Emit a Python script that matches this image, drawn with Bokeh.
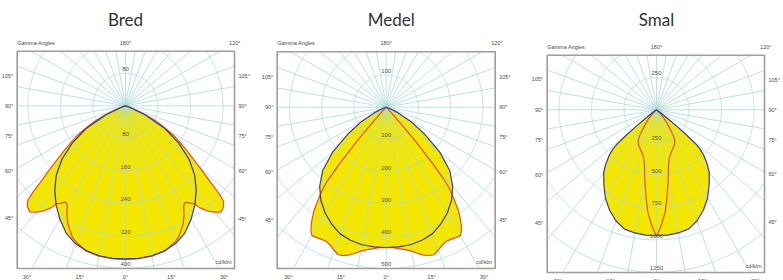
import numpy as np
from bokeh.plotting import figure
from bokeh.layouts import row
from bokeh.models import Range1d
from bokeh.core.properties import value
from bokeh.embed import file_html
from bokeh.resources import INLINE

# ---------------- data (gamma angle in degrees, intensity in cd/klm) ----------------
titles = ["Bred", "Medel", "Smal"]

bred_c0_gamma = [0, 5, 10, 15, 20, 25, 30, 35, 40, 45, 50, 55, 60, 65, 70, 75, 80, 85, 90]
bred_c0_cd = [377, 377, 375, 370, 361, 346, 323, 298, 271, 241, 204, 160, 112, 54, 12, 3, 1, 0, 0]
bred_c90_gamma = [0, 5, 10, 15, 20, 22, 24, 26, 28, 30, 31, 32, 33, 34, 35, 36, 38, 40, 42, 44,
                  45, 46, 47, 48, 49, 50, 52, 54, 56, 58, 60, 62, 64, 66, 68, 70, 75, 80, 90]
bred_c90_cd = [379, 378, 376, 371, 357, 349, 336, 324, 307, 287, 281, 280, 285, 290, 294, 310, 329, 342, 352, 347,
               342, 334, 311, 282, 262, 243, 211, 185, 163, 144, 119, 97, 77, 54, 32, 14, 4, 1, 0]

medel_c0_gamma = [0, 5, 10, 15, 20, 25, 30, 35, 40, 45, 50, 55, 60, 65, 70, 75, 80, 90]
medel_c0_cd = [435, 435, 433, 427, 418, 400, 379, 353, 321, 279, 217, 145, 88, 40, 10, 3, 1, 0]
medel_c90_gamma = [0, 3, 5, 8, 10, 12, 14, 16, 18, 20, 22, 24, 26, 28, 30, 31, 32, 33, 34, 35, 36, 37,
                   38, 38.6, 39.5, 40.6, 41.9, 43, 45, 50, 60, 90]
medel_c90_cd = [435, 436, 440, 447, 453, 463, 472, 479, 481, 472, 462, 456, 456, 458, 460, 452, 440, 425, 408, 390,
                364, 341, 315, 290, 225, 140, 55, 22, 6, 1, 0, 0]

smal_c0_gamma = [0, 5, 10, 15, 20, 25, 30, 35, 40, 43, 46, 48, 49, 50, 51, 52, 54, 58, 65, 90]
smal_c0_cd = [969, 968, 962, 950, 910, 853, 786, 706, 632, 573, 506, 452, 400, 310, 200, 100, 35, 10, 2, 0]
smal_c90_gamma = [0, 0.5, 2.3, 4.8, 6.6, 8.5, 10.8, 12.5, 14.4, 16.5, 19, 22, 26.1, 29, 31.5, 33.5, 35.3, 38,
                  40.6, 45, 50, 60, 90]
smal_c90_cd = [965, 956, 893, 792, 692, 591, 491, 430, 392, 365, 347, 330, 308, 290, 265, 228, 182, 135,
               95, 40, 10, 2, 0]

ring_steps = [80, 100, 250]
ring_labels_below = [[80, 160, 240, 320, 400], [100, 200, 300, 400, 500], [250, 500, 750, 1000, 1250]]
ring_label_above = [80, 100, 250]

side_angles = [105, 90, 75, 60, 45]
bottom_angles = [-30, -15, 0, 15, 30]
top_right_angle = 120

series = [
    (bred_c0_gamma, bred_c0_cd, bred_c90_gamma, bred_c90_cd),
    (medel_c0_gamma, medel_c0_cd, medel_c90_gamma, medel_c90_cd),
    (smal_c0_gamma, smal_c0_cd, smal_c90_gamma, smal_c90_cd),
]

# ---------------- style / layout ----------------
GRID = "#a9dbd7"
FILL = "#f3e600"
BLUE = "#3b3b94"
RED = "#e6501c"
BOX = "#a39c99"
TXT = "#4a4a4a"
RTXT = "#5a5040"
FONT = value("Liberation Sans")

W, H = 261, 280
# scale px per unit, centre (px inside the panel), box edges in px relative to centre
panels = [
    dict(scale=0.406, cx=125.0, cy=105.3, bl=-108.3, br=109.0, bt=-54.6, bb=162.7, tx=0),
    dict(scale=0.3225, cx=124.7, cy=106.7, bl=-109.0, br=109.0, bt=-55.4, bb=161.3, tx=5),
    dict(scale=0.13, cx=134.0, cy=109.3, bl=-109.3, br=108.0, bt=-54.6, bb=162.7, tx=0),
]


def outline(g, cd):
    g = np.radians(np.array(g, float))
    r = np.array(cd, float)
    xr = r * np.sin(g)
    yr = -r * np.cos(g)
    xs = np.concatenate([-xr[::-1], xr[1:]])
    ys = np.concatenate([yr[::-1], yr[1:]])
    return xs, ys


def clipped_ring(r, L, R, B, T):
    th = np.linspace(0, 2 * np.pi, 1441)
    x = r * np.cos(th)
    y = r * np.sin(th)
    inside = (x >= L) & (x <= R) & (y >= B) & (y <= T)
    segs_x, segs_y = [], []
    cur_x, cur_y = [], []
    for xi, yi, ok in zip(x, y, inside):
        if ok:
            cur_x.append(xi); cur_y.append(yi)
        elif cur_x:
            segs_x.append(cur_x); segs_y.append(cur_y); cur_x, cur_y = [], []
    if cur_x:
        segs_x.append(cur_x); segs_y.append(cur_y)
    return segs_x, segs_y


def build(i):
    P = panels[i]
    s = P["scale"]
    x0 = -P["cx"] / s
    x1 = (W - P["cx"]) / s
    y1 = P["cy"] / s
    y0 = -(H - P["cy"]) / s
    L, R = P["bl"] / s, P["br"] / s
    T, B = -P["bt"] / s, -P["bb"] / s
    p = figure(width=W, height=H, x_range=Range1d(x0, x1), y_range=Range1d(y0, y1),
               output_backend="svg", toolbar_location=None,
               x_axis_location=None, y_axis_location=None, min_border=0,
               outline_line_color=None, background_fill_color="white", border_fill_color="white")
    p.grid.grid_line_color = None

    c0g, c0v, c90g, c90v = series[i]
    bx, by = outline(c0g, c0v)
    rx, ry = outline(c90g, c90v)
    p.patch(rx, ry, fill_color=FILL, line_color=None)
    p.patch(bx, by, fill_color=FILL, line_color=None)

    # grid rings clipped to the box
    step = ring_steps[i]
    mx, my = [], []
    for k in range(1, 10):
        sx, sy = clipped_ring(step * k, L, R, B, T)
        mx += sx; my += sy
    p.multi_line(mx, my, line_color=GRID, line_width=0.8)

    # spokes every 10 degrees, ending at the box
    sx1, sy1 = [], []
    for a in range(0, 360, 10):
        th = np.radians(a)
        dx, dy = np.sin(th), np.cos(th)
        ts = []
        if dx > 1e-9: ts.append(R / dx)
        if dx < -1e-9: ts.append(L / dx)
        if dy > 1e-9: ts.append(T / dy)
        if dy < -1e-9: ts.append(B / dy)
        t = min(ts)
        sx1.append(dx * t); sy1.append(dy * t)
    p.segment(x0=[0] * len(sx1), y0=[0] * len(sx1), x1=sx1, y1=sy1, line_color=GRID, line_width=0.8)

    p.line(rx, ry, line_color=RED, line_width=1.2)
    p.line(bx, by, line_color=BLUE, line_width=1.2)

    # box
    p.quad(left=[L], right=[R], top=[T], bottom=[B], fill_color=None, line_color=BOX, line_width=1.6)

    # ring labels
    lab_vals = [ring_label_above[i]] + ring_labels_below[i]
    lab_y = [ring_label_above[i] + 4 / s] + [-v + 4 / s for v in ring_labels_below[i]]
    p.text(x=[0] * len(lab_vals), y=lab_y, text=[str(v) for v in lab_vals],
           text_font=FONT, text_font_size="6px", text_color=RTXT,
           text_align="center", text_baseline="middle")

    # cd/klm
    p.text(x=[R - 3 / s], y=[B + 6.5 / s], text=["cd/klm"], text_font=FONT,
           text_font_size="5.5px", text_color=TXT, text_align="right", text_baseline="middle")

    # gamma angle labels around the box
    pad = 4 / s
    lx, ly, lt, rxl, ryl, rt = [], [], [], [], [], []
    for a in side_angles:
        g = np.radians(a)
        xl = L - pad
        t = xl / (-np.sin(g))
        lx.append(xl); ly.append(-np.cos(g) * t); lt.append(f"{a}°")
        xr = R + pad
        t = xr / np.sin(g)
        rxl.append(xr); ryl.append(-np.cos(g) * t); rt.append(f"{a}°")
    p.text(x=lx, y=ly, text=lt, text_font=FONT, text_font_size="5.5px", text_color=TXT,
           text_align="right", text_baseline="middle")
    p.text(x=rxl, y=ryl, text=rt, text_font=FONT, text_font_size="5.5px", text_color=TXT,
           text_align="left", text_baseline="middle")

    yb = B - 8 / s
    bxs = []
    for a in bottom_angles:
        g = np.radians(a)
        t = yb / (-np.cos(g))
        bxs.append(np.sin(g) * t)
    p.text(x=bxs, y=[yb] * len(bxs), text=[f"{abs(a)}°" for a in bottom_angles],
           text_font=FONT, text_font_size="5.5px", text_color=TXT,
           text_align="center", text_baseline="middle")

    yt = T + 8.5 / s
    g = np.radians(top_right_angle)
    t = yt / (-np.cos(g))
    p.text(x=[L], y=[yt], text=["Gamma Angles"], text_font=FONT, text_font_size="5.5px",
           text_color=TXT, text_align="left", text_baseline="middle")
    p.text(x=[0, np.sin(g) * t], y=[yt, yt], text=["180°", f"{top_right_angle}°"], text_font=FONT,
           text_font_size="5.5px", text_color=TXT, text_align="center", text_baseline="middle")

    # title
    p.text(x=[P["tx"] / s], y=[(P["cy"] - 19) / s], text=[titles[i]],
           text_font=value("Lato"), text_font_size="17px", text_color="#333333",
           text_align="center", text_baseline="middle")
    return p


figs = [build(i) for i in range(3)]
layout = row(*figs, spacing=0)
open("out.html", "w").write(file_html(layout, INLINE))
